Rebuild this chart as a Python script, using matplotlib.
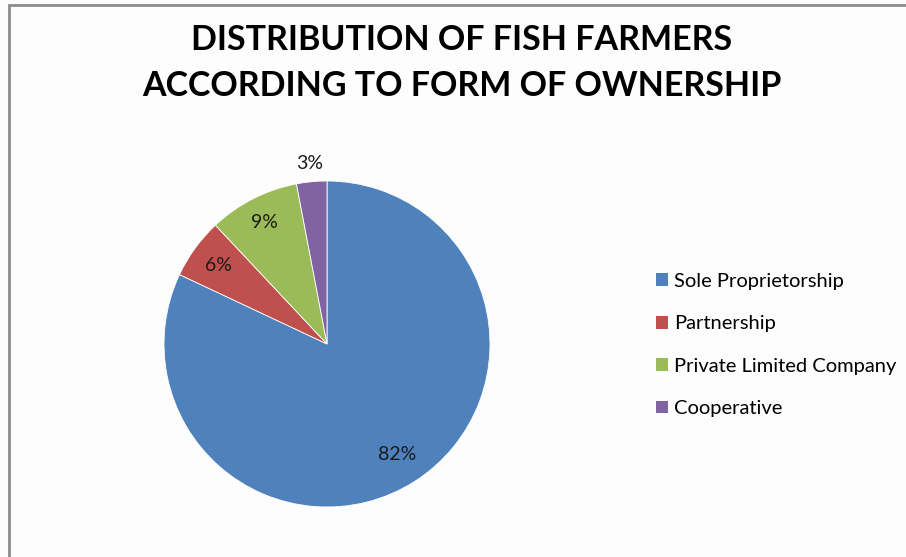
import numpy as np
import matplotlib
matplotlib.use("Agg")
import matplotlib.pyplot as plt
from matplotlib.patches import Patch, Rectangle

categories = ["Sole Proprietorship", "Partnership", "Private Limited Company", "Cooperative"]
shares = [82, 6, 9, 3]
pct_labels = ["82%", "6%", "9%", "3%"]
colors = ["#4F81BD", "#C0504D", "#9BBB59", "#8064A2"]
title = "DISTRIBUTION OF FISH FARMERS\nACCORDING TO FORM OF OWNERSHIP"

plt.rcParams['font.family'] = ['Lato', 'DejaVu Sans']

W, H = 906, 557
fig = plt.figure(figsize=(W / 100, H / 100), dpi=100)
fig.patch.set_facecolor("#FDFDFD")

# chart frame (only left and top edges visible in the picture)
fig.add_artist(Rectangle((9 / W, -0.2), 1.3, 1.2 - 5 / H, transform=fig.transFigure,
                         fill=False, edgecolor="#8C8C8C", linewidth=2))

fig.text(462 / W, 1 - 63 / H, title, ha="center", va="center", fontsize=24.5,
         fontweight="bold", color="black", linespacing=1.55)

# pie: centre (327, 344), radius 163 px
cx, cy, r = 327, 344, 163
ax = fig.add_axes([(cx - r) / W, (H - cy - r) / H, 2 * r / W, 2 * r / H])
wedges, _ = ax.pie(shares, colors=colors, startangle=90, counterclock=False,
                   wedgeprops=dict(edgecolor="white", linewidth=0.6))
ax.set_xlim(-1, 1)
ax.set_ylim(-1, 1)
ax.set_aspect("equal")
ax.axis("off")

label_dist = [0.80, 0.82, 0.84, 1.11]
for w, lab, d in zip(wedges, pct_labels, label_dist):
    ang = np.deg2rad((w.theta1 + w.theta2) / 2)
    ax.text(d * np.cos(ang), d * np.sin(ang), lab, ha="center", va="center",
            fontsize=14, color="#1a1a1a", clip_on=False)

handles = [Patch(facecolor=c, edgecolor="none") for c in colors]
fig.legend(handles, categories, loc="center left",
           bbox_to_anchor=(648 / W, 1 - 345 / H), frameon=False, fontsize=14.5,
           handlelength=0.6, handleheight=0.6, handletextpad=0.3,
           labelspacing=1.26, borderaxespad=0)

fig.savefig("out.png", dpi=100, facecolor=fig.get_facecolor())
